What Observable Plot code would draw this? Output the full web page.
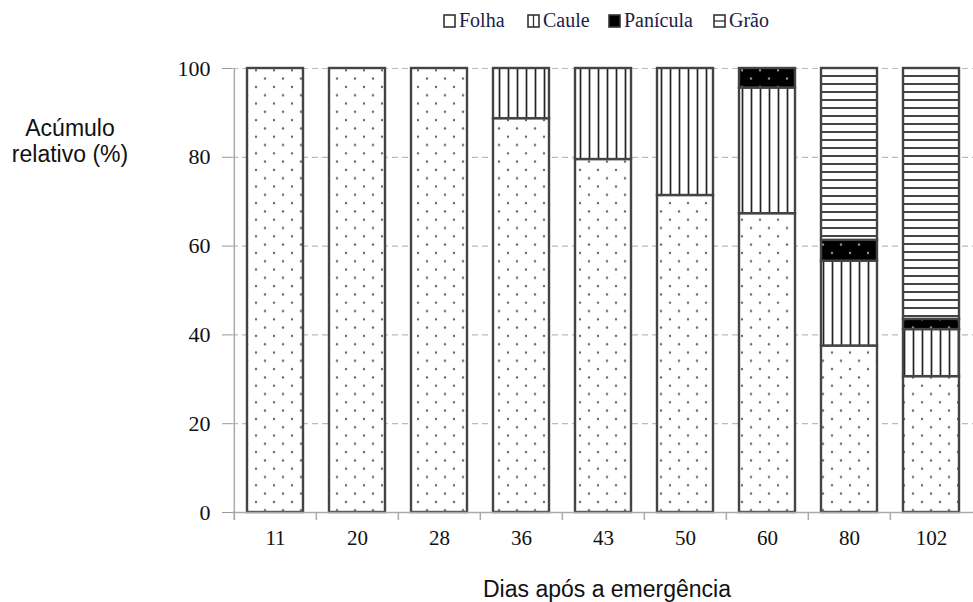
<!DOCTYPE html>
<html><head><meta charset="utf-8">
<script src="https://cdn.jsdelivr.net/npm/d3@7"></script>
<script src="https://cdn.jsdelivr.net/npm/@observablehq/plot@0.6"></script>
<style>
body{margin:0;background:#fff;}
#wrap{position:relative;width:973px;height:602px;overflow:hidden;}
#chart{position:absolute;left:0;top:0;}
.leg{position:absolute;top:9px;height:22px;line-height:22px;font-family:"Liberation Serif",serif;font-size:20px;color:#1c1c48;white-space:nowrap;display:flex;align-items:center;}
.leg svg{margin-right:3px;margin-top:1px;}
.lbl{position:absolute;font-family:"Liberation Sans",Arial,sans-serif;font-size:23px;line-height:26px;color:#111;text-align:center;white-space:nowrap;}
</style></head>
<body>
<svg width="0" height="0" style="position:absolute">
<defs>
<pattern id="pFolha" patternUnits="userSpaceOnUse" width="18" height="16.6">
<rect width="18" height="16.6" fill="#fff"/>
<circle cx="4" cy="4" r="1.2" fill="#666"/>
<circle cx="13" cy="12.3" r="1.2" fill="#666"/>
</pattern>
<pattern id="pCaule" patternUnits="userSpaceOnUse" width="9" height="10">
<rect width="9" height="10" fill="#fff"/>
<line x1="4.5" y1="0" x2="4.5" y2="10" stroke="#222" stroke-width="1.7"/>
</pattern>
<pattern id="pPanicula" patternUnits="userSpaceOnUse" width="18" height="16.6">
<rect width="18" height="16.6" fill="#000"/>
<circle cx="4" cy="4" r="1.2" fill="#999"/>
<circle cx="13" cy="12.3" r="1.2" fill="#999"/>
</pattern>
<pattern id="pGrao" patternUnits="userSpaceOnUse" width="10" height="8">
<rect width="10" height="8" fill="#fff"/>
<line x1="0" y1="4" x2="10" y2="4" stroke="#222" stroke-width="1.7"/>
</pattern>
</defs>
</svg>
<div id="wrap">
<div id="chart"></div>
<div id="legend"></div>
<div class="lbl" style="left:0;top:115px;width:140px;">Acúmulo<br>relativo (%)</div>
<div class="lbl" style="left:407px;top:576px;width:400px;">Dias após a emergência</div>
</div>
<script>
const categories = ["11","20","28","36","43","50","60","80","102"];
const parts = ["Folha","Caule","Panícula","Grão"];
const folha    = [100,100,100,88.7,79.5,71.4,67.3,37.5,30.6];
const caule    = [0,0,0,11.3,20.5,28.6,28.3,19.1,10.6];
const panicula = [0,0,0,0,0,0,4.4,4.7,2.3];
const grao     = [0,0,0,0,0,0,0,38.7,56.5];
const yTicks = [0,20,40,60,80,100];
const patterns = ["url(#pFolha)","url(#pCaule)","url(#pPanicula)","url(#pGrao)"];

const series = [folha, caule, panicula, grao];
const data = [];
categories.forEach((c, i) => {
  parts.forEach((p, j) => {
    if (series[j][i] > 0) data.push({dia: c, parte: p, valor: series[j][i]});
  });
});

const W = 973, H = 602, mL = 232, mR = 0, mT = 68, mB = 90;
const step = (W - mL - mR) / categories.length;

const chart = Plot.plot({
  width: W, height: H,
  marginLeft: mL, marginRight: mR, marginTop: mT, marginBottom: mB,
  style: {fontFamily: "Liberation Serif, serif", fontSize: "20px", color: "#111", background: "#fff"},
  x: {domain: categories, paddingInner: 0.32, paddingOuter: 0.16, label: null},
  y: {domain: [0, 100], label: null},
  color: {domain: parts, range: patterns, type: "ordinal"},
  marks: [
    Plot.ruleY(yTicks.filter(d => d > 0), {stroke: "#bbb", strokeWidth: 1.2, strokeDasharray: "6,4"}),
    Plot.axisY({ticks: yTicks, tickSize: 10, tickPadding: 12, stroke: "#999", fontSize: 22, label: null}),
    Plot.axisX({tickSize: 0, tickPadding: 18, fontSize: 21, label: null}),
    Plot.barY(data, Plot.stackY({x: "dia", y: "valor", fill: "parte", order: null, stroke: "#444", strokeWidth: 2.4})),
    Plot.ruleY([0], {stroke: "#aaa", strokeWidth: 1.5}),
    Plot.ruleX(categories, {x: d => d, y1: -1.8, y2: 0, dx: -step / 2, stroke: "#aaa", strokeWidth: 1.5}),
    Plot.ruleX([categories[0]], {x: d => d, y1: -1.8, y2: 100, dx: -step / 2, stroke: "#aaa", strokeWidth: 1.5})
  ]
});
document.getElementById("chart").appendChild(chart);

// legend
const legendX = [443, 527, 608, 713];
const wrap = d3.select("#wrap");
parts.forEach((p, j) => {
  const it = wrap.append("div").attr("class", "leg").style("left", legendX[j] + "px");
  const s = it.append("svg").attr("width", 13).attr("height", 14);
  s.append("rect").attr("x", 1).attr("y", 1).attr("width", 11).attr("height", 12)
    .attr("fill", j === 2 ? "#000" : "#fff").attr("stroke", "#333").attr("stroke-width", 1.6);
  if (j === 1) s.append("line").attr("x1", 6.5).attr("x2", 6.5).attr("y1", 1).attr("y2", 13).attr("stroke", "#333").attr("stroke-width", 1.3);
  if (j === 3) s.append("line").attr("x1", 1).attr("x2", 12).attr("y1", 7).attr("y2", 7).attr("stroke", "#333").attr("stroke-width", 1.3);
  it.append("span").text(p);
});
</script>
</body></html>
